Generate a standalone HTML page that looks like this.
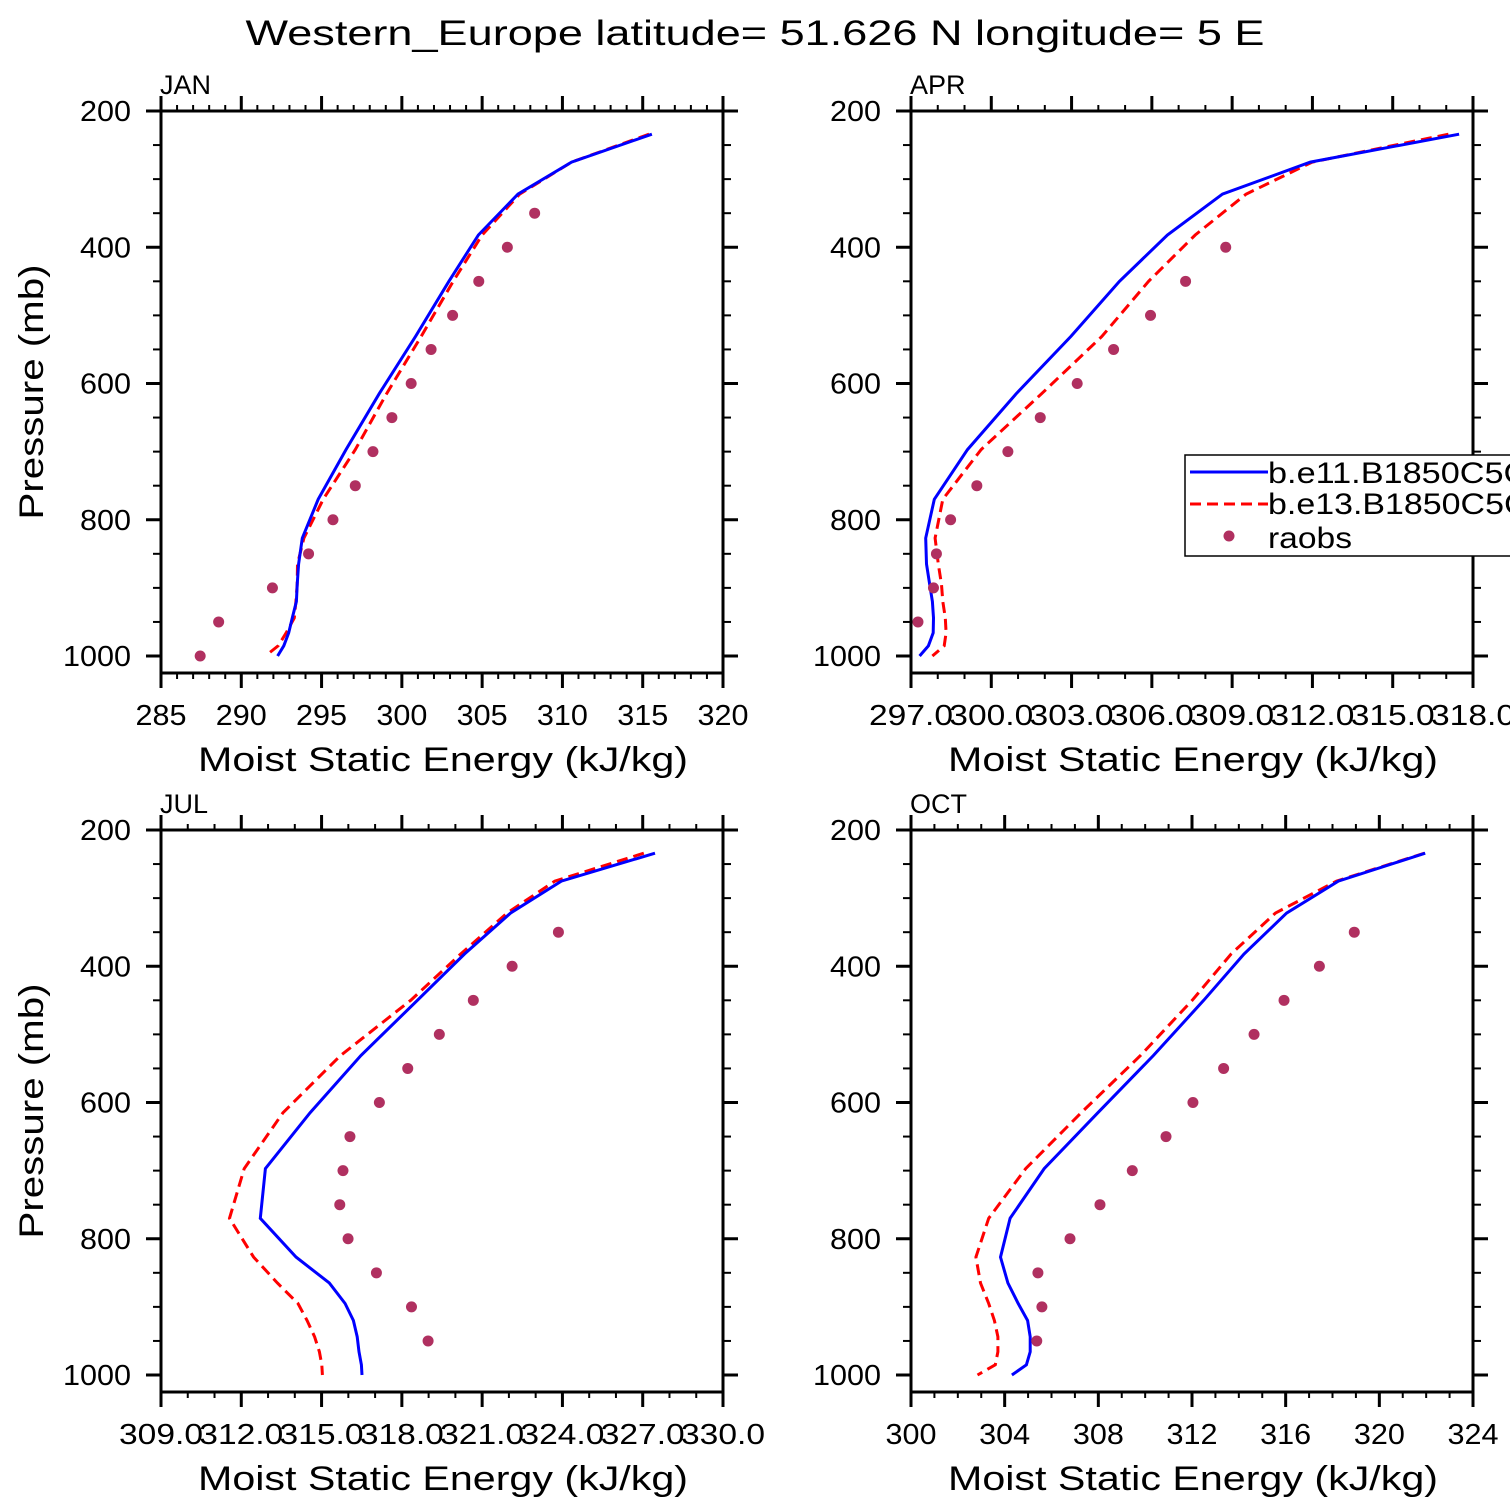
<!DOCTYPE html>
<html><head><meta charset="utf-8"><style>
html,body{margin:0;padding:0;background:#fff;}
svg{display:block;font-family:"Liberation Sans","DejaVu Sans",sans-serif;}
</style></head><body>
<svg id="chart" width="1510" height="1510" viewBox="0 0 1510 1510" xmlns="http://www.w3.org/2000/svg">
<text x="755" y="45" text-anchor="middle" font-size="35" textLength="1019" lengthAdjust="spacingAndGlyphs">Western_Europe  latitude= 51.626 N longitude= 5 E</text>
</svg>
<script>
const levels = [234,275,322,382,450,531,615,697,770,827,865,895,920,944,966,985,1000];
const obsLevels = [350,400,450,500,550,600,650,700,750,800,850,900,950,1000];
const pTicks = [200,400,600,800,1000];
const pMinor = [250,300,350,450,500,550,650,700,750,850,900,950];

const janBlue = [315.57,310.57,307.23,304.77,302.93,300.85,298.59,296.52,294.79,293.80,293.57,293.48,293.43,293.18,292.95,292.65,292.26];
const janRed  = [315.40,310.57,307.34,305.00,303.20,301.20,299.05,297.10,295.10,293.90,293.50,293.48,293.40,293.30,292.80,292.30,291.50];
const janObs  = [308.27,306.57,304.79,303.16,301.82,300.58,299.38,298.20,297.10,295.71,294.19,291.94,288.59,287.44];
const janTicks = [285,290,295,300,305,310,315,320];
const janTickLabels = ["285","290","295","300","305","310","315","320"];

const aprBlue = [317.48,311.92,308.64,306.58,304.79,302.97,300.93,299.11,297.87,297.55,297.58,297.70,297.80,297.84,297.83,297.65,297.32];
const aprRed  = [317.08,311.99,309.52,307.62,305.88,304.13,301.88,299.62,298.19,297.90,298.02,298.14,298.19,298.28,298.31,298.24,297.80];
const aprObs  = [null,308.76,307.26,305.95,304.57,303.21,301.83,300.62,299.46,298.48,297.95,297.84,297.26,null];
const aprTicks = [297,300,303,306,309,312,315,318];
const aprTickLabels = ["297.0","300.0","303.0","306.0","309.0","312.0","315.0","318.0"];

const julBlue = [327.46,323.96,322.06,320.34,318.58,316.47,314.57,312.90,312.71,314.05,315.29,315.88,316.19,316.33,316.40,316.49,316.51];
const julRed  = [327.04,323.72,321.93,320.20,318.33,315.71,313.56,312.11,311.56,312.46,313.35,314.12,314.46,314.74,314.92,315.01,315.03];
const julObs  = [323.85,322.12,320.67,319.40,318.22,317.16,316.06,315.80,315.68,315.99,317.05,318.36,318.98,null];
const julTicks = [309,312,315,318,321,324,327,330];
const julTickLabels = ["309.0","312.0","315.0","318.0","321.0","324.0","327.0","330.0"];

const octBlue = [321.96,318.25,316.04,314.22,312.50,310.35,307.98,305.69,304.23,303.82,304.14,304.58,304.98,305.09,305.09,304.93,304.31];
const octRed  = [321.93,318.17,315.56,313.67,312.01,309.80,307.27,304.90,303.32,302.77,302.97,303.32,303.56,303.71,303.71,303.60,302.84];
const octObs  = [318.93,317.44,315.93,314.65,313.35,312.04,310.89,309.45,308.07,306.79,305.42,305.59,305.37,null];
const octTicks = [300,304,308,312,316,320,324];
const octTickLabels = ["300","304","308","312","316","320","324"];

const NS = "http://www.w3.org/2000/svg";
const svg = document.getElementById("chart");
function mk(tag, attrs, parent){
  const e = document.createElementNS(NS, tag);
  for (const k in attrs) e.setAttribute(k, attrs[k]);
  (parent||svg).appendChild(e);
  return e;
}

function panel(o){
  const L=o.left, T=o.top, W=562, H=562;
  const g = mk("g",{});
  
  
  const yOf = p => T + (p-200)*0.68125;
  const xOf = v => L + (v-o.xmin)/(o.xmax-o.xmin)*W;
  for (let v=o.xmin; v<=o.xmax+1e-6; v+=1){
    const major = o.ticks.some(t=>Math.abs(t-v)<1e-6);
    const len = major?15:6;
    const x = xOf(v);
    const t1 = mk("line",{x1:x,x2:x,y1:T,y2:T-len,stroke:"#000","stroke-width":major?3:2},g);
    
    
    const t2 = mk("line",{x1:x,x2:x,y1:T+H,y2:T+H+len,stroke:"#000","stroke-width":major?3:2},g);
    
    
  }
  pTicks.concat(pMinor).forEach(p=>{
    const major = pTicks.includes(p);
    const len = major?15:8, y=yOf(p);
    const a = mk("line",{x1:L,x2:L-len,y1:y,y2:y,stroke:"#000","stroke-width":major?3:2},g);
    
    
    const b = mk("line",{x1:L+W,x2:L+W+len,y1:y,y2:y,stroke:"#000","stroke-width":major?3:2},g);
    
    
  });
  pTicks.forEach(p=>{
    const s = String(p);
    const t = mk("text",{x:L-30,y:yOf(p)+10,"text-anchor":"end","font-size":29,textLength:s.length*17,lengthAdjust:"spacingAndGlyphs"},g);
    t.textContent = s;
    
    
  });
  o.ticks.forEach((v,i)=>{
    const attrs = {x:xOf(v),y:T+H+52,"text-anchor":"middle","font-size":29};
    if (o.narrow){ attrs.textLength=84; attrs.lengthAdjust="spacingAndGlyphs"; }
    else { attrs.textLength=o.labels[i].length*17; attrs.lengthAdjust="spacingAndGlyphs"; }
    const t = mk("text",attrs,g);
    t.textContent = o.labels[i];
    
    
  });
  const xt = mk("text",{x:L+282,y:T+H+98,"text-anchor":"middle","font-size":34,textLength:490,lengthAdjust:"spacingAndGlyphs"},g);
  xt.textContent = "Moist Static Energy (kJ/kg)";
  
  
  if (o.yTitle){
    const yt = mk("text",{x:0,y:0,"text-anchor":"middle","font-size":34,textLength:255,lengthAdjust:"spacingAndGlyphs",transform:`translate(43,${T+281}) rotate(-90)`},g);
    yt.textContent = "Pressure (mb)";
    
    
  }
  const lab = mk("text",{x:L-1,y:T-17,"font-size":27},g);
  lab.textContent = o.name.toUpperCase();
  
  
  const clipId = "clip-"+o.name;
  const cp = mk("clipPath",{id:clipId},g);
  mk("rect",{x:L,y:T,width:W,height:H},cp);
  const dg = mk("g",{"clip-path":`url(#${clipId})`},g);
  const ptsB = o.blue.map((v,i)=>xOf(v).toFixed(1)+","+yOf(levels[i]).toFixed(1)).join(" ");
  const ptsR = o.red.map((v,i)=>xOf(v).toFixed(1)+","+yOf(levels[i]).toFixed(1)).join(" ");
  const lr = mk("polyline",{points:ptsR,fill:"none",stroke:"#ff0000","stroke-width":3,"stroke-dasharray":"11,6"},dg);
  
  
  const lb = mk("polyline",{points:ptsB,fill:"none",stroke:"#0000ff","stroke-width":3},dg);
  
  
  o.obs.forEach((v,i)=>{
    if (v===null) return;
    const c = mk("circle",{cx:xOf(v),cy:yOf(obsLevels[i]),r:5.5,fill:"#b03060"},dg);
    
    
  });
  const fr = mk("rect",{x:L,y:T,width:W,height:H,fill:"none",stroke:"#000","stroke-width":3},g);
  
  
}

panel({name:"jan",left:161,top:111,xmin:285,xmax:320,ticks:janTicks,labels:janTickLabels,blue:janBlue,red:janRed,obs:janObs,yTitle:true});
panel({name:"apr",left:911,top:111,xmin:297,xmax:318,ticks:aprTicks,labels:aprTickLabels,blue:aprBlue,red:aprRed,obs:aprObs,narrow:true});
panel({name:"jul",left:161,top:830,xmin:309,xmax:330,ticks:julTicks,labels:julTickLabels,blue:julBlue,red:julRed,obs:julObs,yTitle:true,narrow:true});
panel({name:"oct",left:911,top:830,xmin:300,xmax:324,ticks:octTicks,labels:octTickLabels,blue:octBlue,red:octRed,obs:octObs});

const lg = mk("g",{});


const lbx = mk("rect",{x:1185,y:455,width:340,height:101,fill:"#fff",stroke:"#000","stroke-width":1.5},lg);


const l1 = mk("line",{x1:1190,x2:1268,y1:472,y2:472,stroke:"#0000ff","stroke-width":3},lg);


const l2 = mk("line",{x1:1190,x2:1268,y1:504,y2:504,stroke:"#ff0000","stroke-width":3,"stroke-dasharray":"11,6"},lg);


const l3 = mk("circle",{cx:1229,cy:536,r:5.5,fill:"#b03060"},lg);


[["b.e11.B1850C5CN",483,285],["b.e13.B1850C5CN",514,285],["raobs",548,84]].forEach(([s,y,w])=>{
  const t = mk("text",{x:1268,y:y,"font-size":30,textLength:w,lengthAdjust:"spacingAndGlyphs"},lg);
  t.textContent = s;
  
  
});
</script>
</body></html>
